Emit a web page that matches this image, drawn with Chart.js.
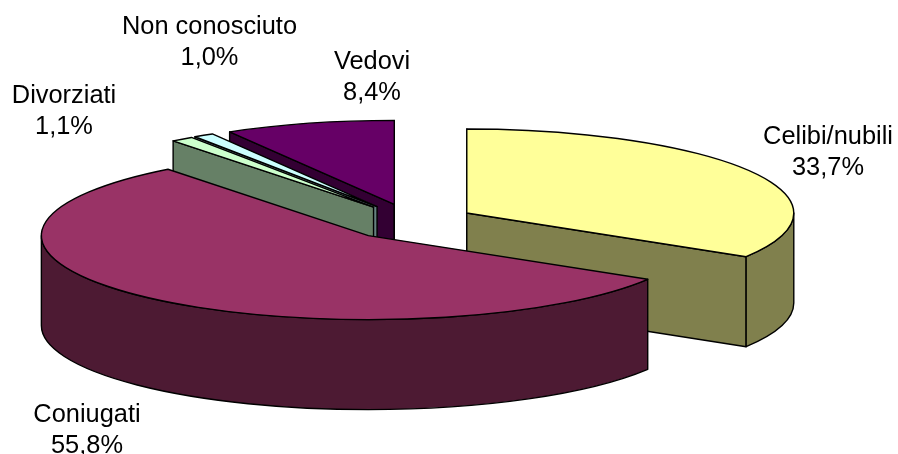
<!DOCTYPE html>
<html>
<head>
<meta charset="utf-8">
<style>html,body{margin:0;padding:0;background:#fff}canvas{display:block}</style>
<script src="https://cdn.jsdelivr.net/npm/chart.js@4"></script>
</head>
<body>
<canvas id="c" width="898" height="454"></canvas>
<script>
const categories = ['Celibi/nubili', 'Coniugati', 'Divorziati', 'Non conosciuto', 'Vedovi'];
const shares = [33.7, 55.8, 1.1, 1.0, 8.4];
const topColors = ['#FFFF99', '#993366', '#CCFFCC', '#CCFFFF', '#660066'];
const sideColors = ['#80804D', '#4D1A33', '#668066', '#668080', '#330033'];
const labelCenters = [[828, 144], [87, 422], [64, 103], [209.5, 34], [372, 69]];

const TILT = 84 / 327, EXPLODE_TILT = 0.285, DEPTH = 90, RADIUS = 327, EXPLODE = 64;
const FONT = '25.4px "Liberation Sans", Arial, sans-serif', LINE_GAP = 31;

function shape(ctx, fill, build) {
  ctx.beginPath();
  build();
  ctx.closePath();
  ctx.fillStyle = fill;
  ctx.fill();
  ctx.stroke();
}

const pie3d = {
  id: 'pie3d',
  beforeDatasetDraw(chart, args) {
    const ctx = chart.ctx;
    const arcs = args.meta.data;
    const midY = arcs[0].y;
    const items = arcs.map((arc, i) => {
      const mid = (arc.startAngle + arc.endAngle) / 2;
      const off = arc.options.offset;
      return {
        i, a0: arc.startAngle, a1: arc.endAngle, r: arc.outerRadius,
        x: arc.x + Math.cos(mid) * off,
        y: midY + Math.sin(mid) * off * EXPLODE_TILT
      };
    }).sort((p, q) => p.y - q.y);

    ctx.save();
    ctx.strokeStyle = '#000';
    ctx.lineWidth = 1.4;
    ctx.lineJoin = 'round';
    for (const s of items) {
      const rx = s.r, ry = s.r * TILT, side = sideColors[s.i];
      const radial = a => shape(ctx, side, () => {
        const ex = s.x + rx * Math.cos(a), ey = s.y + ry * Math.sin(a);
        ctx.moveTo(s.x, s.y);
        ctx.lineTo(ex, ey);
        ctx.lineTo(ex, ey + DEPTH);
        ctx.lineTo(s.x, s.y + DEPTH);
      });
      if (Math.cos(s.a0) <= 1e-6) radial(s.a0);
      if (Math.cos(s.a1) >= -1e-6) radial(s.a1);
      const f0 = Math.max(s.a0, 0), f1 = Math.min(s.a1, Math.PI);
      if (f1 > f0) {
        shape(ctx, side, () => {
          ctx.ellipse(s.x, s.y, rx, ry, 0, f0, f1);
          ctx.ellipse(s.x, s.y + DEPTH, rx, ry, 0, f1, f0, true);
        });
      }
      shape(ctx, topColors[s.i], () => {
        ctx.moveTo(s.x, s.y);
        ctx.ellipse(s.x, s.y, rx, ry, 0, s.a0, s.a1);
      });
    }
    ctx.restore();
    return false;
  },
  afterDraw(chart) {
    const ctx = chart.ctx;
    ctx.save();
    ctx.font = FONT;
    ctx.fillStyle = '#000';
    ctx.textAlign = 'center';
    ctx.textBaseline = 'alphabetic';
    categories.forEach((name, i) => {
      const [x, y] = labelCenters[i];
      ctx.fillText(name, x, y);
      ctx.fillText(shares[i].toFixed(1).replace('.', ',') + '%', x, y + LINE_GAP);
    });
    ctx.restore();
  }
};

new Chart(document.getElementById('c'), {
  type: 'pie',
  data: {
    labels: categories,
    datasets: [{ data: shares, backgroundColor: topColors, borderWidth: 0, offset: EXPLODE, radius: RADIUS }]
  },
  options: {
    responsive: false,
    animation: false,
    radius: RADIUS,
    layout: { padding: { right: 76, bottom: 10 } },
    plugins: { legend: { display: false }, tooltip: { enabled: false } },
    events: []
  },
  plugins: [pie3d]
});
</script>
</body>
</html>
